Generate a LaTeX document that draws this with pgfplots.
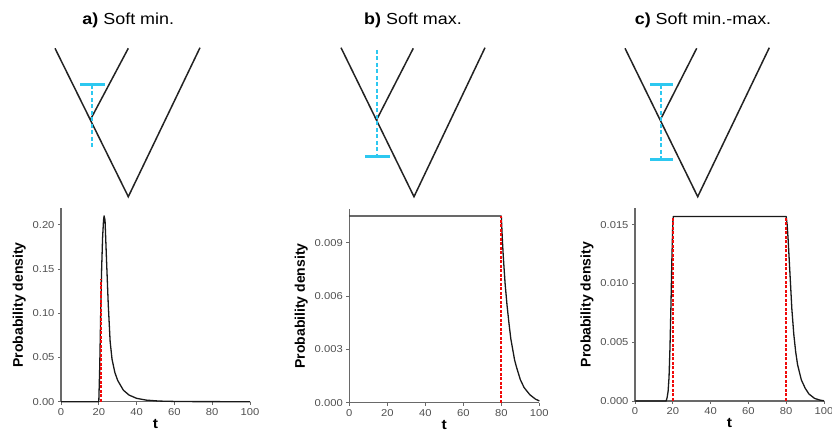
\documentclass[border=0pt]{standalone}
\usepackage{pgfplots}
\pgfplotsset{compat=1.18}
\usepackage{fontspec}
\setmainfont{Liberation Sans}
\newfontfamily\widefont[FakeStretch=1.12]{Liberation Sans}

\definecolor{axgray}{RGB}{105,105,105}
\definecolor{tickgray}{RGB}{80,80,80}
\definecolor{cyanbar}{RGB}{45,200,240}
\definecolor{denred}{RGB}{240,10,10}
\definecolor{curve}{RGB}{25,25,25}
\definecolor{tree}{RGB}{35,35,35}

\pgfplotsset{
  dens/.style={
    scale only axis,
    anchor=south west,
    xmin=0, xmax=100, ymin=0,
    axis x line=bottom, axis y line=left,
    axis line style={axgray, line width=1.5pt, -},
    xtick={0,20,...,100},
    tick align=outside,
    major tick length=3pt,
    tick style={axgray, line width=0.9pt},
    ticklabel style={font=\widefont\fontsize{10}{11}\selectfont, text=tickgray},
    scaled y ticks=false,
    /pgf/number format/assume math mode=true,
    xlabel={\widefont\bfseries t},
    ylabel={\bfseries Probability density},
    label style={font=\fontsize{14}{15}\selectfont},
    xlabel style={yshift=3pt},
    clip=false,
  },
  dcurve/.style={curve, line width=1.3pt, line join=round},
  dred/.style={denred, line width=1.7pt, dash pattern=on 3pt off 1.5pt},
  tline/.style={tree, line width=1.5pt},
  cdash/.style={cyanbar, line width=2.2pt, dash pattern=on 4pt off 2.5pt},
  cbar/.style={cyanbar, line width=3pt},
}

\begin{document}
\begin{tikzpicture}

% trees and titles, in image pixel coordinates
\begin{axis}[at={(0pt,0pt)}, anchor=south west, scale only axis,
  width=832pt, height=446pt, xmin=0, xmax=832, ymin=0, ymax=446,
  y dir=reverse, axis lines=none, clip=false]
\addplot[tline] coordinates {(55,48.3) (128.3,196.7) (200,47.7)};
\addplot[tline] coordinates {(128.3,48.3) (90.5,119.5)};
\addplot[cdash] coordinates {(92.3,85) (92.3,146.7)};
\addplot[cbar] coordinates {(80,85) (105,85)};

\addplot[tline] coordinates {(341,47.7) (414,196.7) (485,47.7)};
\addplot[tline] coordinates {(413.3,48.3) (376.5,120)};
\addplot[cdash] coordinates {(376.7,50) (376.7,156.7)};
\addplot[cbar] coordinates {(365,156.7) (390,156.7)};

\addplot[tline] coordinates {(625,48.3) (697.7,196.7) (769.3,47.7)};
\addplot[tline] coordinates {(696.7,48.3) (660.5,119.5)};
\addplot[cdash] coordinates {(661,85) (661,159.3)};
\addplot[cbar] coordinates {(650,85) (673.3,85)};
\addplot[cbar] coordinates {(650,159.3) (673.3,159.3)};

\node[font=\widefont\fontsize{16}{17}\selectfont] at (axis cs:128.3,20) {\textbf{a)} Soft min.};
\node[font=\widefont\fontsize{16}{17}\selectfont] at (axis cs:413,20) {\textbf{b)} Soft max.};
\node[font=\widefont\fontsize{16}{17}\selectfont] at (axis cs:703,20) {\textbf{c)} Soft min.-max.};
\end{axis}

% a) soft min
\begin{axis}[dens, at={(61pt,44.3pt)}, width=189pt, height=193.7pt,
  ymax=0.2189, ytick={0,0.05,0.10,0.15,0.20},
  yticklabel style={/pgf/number format/.cd, fixed, fixed zerofill, precision=2}]
\addplot[dcurve] coordinates {
  (0,0) (20,0) (20.5,0.04) (21,0.10) (21.5,0.15) (22,0.185) (22.5,0.205)
  (22.8,0.21) (23.3,0.205) (24,0.165) (25,0.11) (26,0.068) (27,0.048)
  (28.5,0.033) (30,0.024) (33,0.013) (36,0.0075) (40,0.0038) (45,0.0018)
  (52,0.0007) (60,0.0003) (70,0.0001) (100,0)
};
\addplot[dred] coordinates {(21.2,0) (21.2,0.139)};
\end{axis}

% b) soft max
\begin{axis}[dens, at={(349.3pt,43.3pt)}, width=190pt, height=193.4pt,
  ymax=0.01088, ytick={0,0.003,0.006,0.009},
  yticklabel style={/pgf/number format/.cd, fixed, fixed zerofill, precision=3}]
\addplot[dcurve] coordinates {
  (0,0.0105) (80,0.0105) (80.5,0.0093) (81,0.0083) (82,0.0067) (83,0.0055)
  (84,0.0045) (85,0.0036) (86,0.0030) (87,0.0024) (88,0.0020) (90,0.0013)
  (92,0.00085) (95,0.00045) (98,0.0002) (100,0.0001)
};
\addplot[dred] coordinates {(80,0) (80,0.0105)};
\end{axis}

% c) soft min-max
\begin{axis}[dens, at={(635pt,45pt)}, width=189pt, height=192.7pt,
  ymax=0.0164, ytick={0,0.005,0.010,0.015},
  yticklabel style={/pgf/number format/.cd, fixed, fixed zerofill, precision=3}]
\addplot[dcurve] coordinates {
  (0,0) (16.5,0) (17,0.0003) (17.5,0.0008) (18,0.002) (18.5,0.0045)
  (19,0.008) (19.5,0.012) (20,0.0152) (20.3,0.0157) (80,0.0157)
  (80.5,0.0150) (81,0.0138) (82,0.0108) (83,0.0078) (84,0.0057)
  (85,0.0042) (86,0.0031) (88,0.0018) (90,0.0011) (92,0.0006)
  (95,0.00022) (98,0.00007) (100,0.00002)
};
\addplot[dred] coordinates {(20,0) (20,0.0157)};
\addplot[dred] coordinates {(80,0) (80,0.0157)};
\end{axis}

\pgfresetboundingbox
\path (0pt,0pt) rectangle (832pt,446pt);
\end{tikzpicture}
\end{document}
